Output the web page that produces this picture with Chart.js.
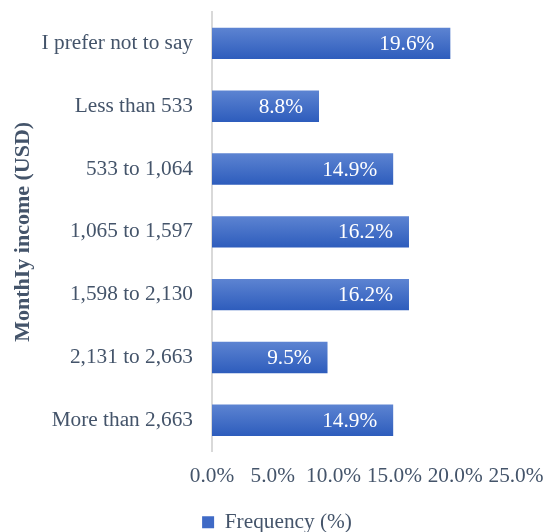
<!DOCTYPE html>
<html lang="en">
<head>
    <meta charset="UTF-8">
    <title>Monthly income</title>
    <style>
        html, body { margin: 0; padding: 0; background: #fff; }
        #wrap { width: 554px; height: 532px; }
    </style>
</head>
<body>
    <div id="wrap"><canvas id="incomeChart" width="554" height="532"></canvas></div>
<script src="https://cdn.jsdelivr.net/npm/chart.js"></script>
<script>
const categories = ['I prefer not to say', 'Less than 533', '533 to 1,064', '1,065 to 1,597', '1,598 to 2,130', '2,131 to 2,663', 'More than 2,663'];
const frequency = [19.6, 8.8, 14.9, 16.2, 16.2, 9.5, 14.9];
const xTicks = [0, 5, 10, 15, 20, 25];

const textColor = '#44546A';
const serif = '"Liberation Serif", "Times New Roman", serif';
const fontSize = 21.3;

// white value labels at the inner end of each bar
const barLabels = {
    id: 'barLabels',
    afterDatasetsDraw(chart) {
        const c = chart.ctx;
        const meta = chart.getDatasetMeta(0);
        c.save();
        c.font = fontSize + 'px ' + serif;
        c.fillStyle = '#ffffff';
        c.textAlign = 'right';
        c.textBaseline = 'middle';
        meta.data.forEach((bar, i) => {
            c.fillText(frequency[i].toFixed(1) + '%', bar.x - 16, bar.y + 1);
        });
        c.restore();
    }
};

function barFill(context) {
    const chart = context.chart;
    const y = chart.scales.y;
    if (!y || context.dataIndex === undefined) return '#4472c4';
    const mid = y.getPixelForValue(context.dataIndex);
    const g = chart.ctx.createLinearGradient(0, mid - 16, 0, mid + 16);
    g.addColorStop(0, '#5d84d2');
    g.addColorStop(1, '#2d5cbc');
    return g;
}

new Chart(document.getElementById('incomeChart'), {
    type: 'bar',
    data: {
        labels: categories,
        datasets: [{
            label: 'Frequency (%)',
            data: frequency,
            backgroundColor: barFill,
            categoryPercentage: 0.5,
            barPercentage: 1
        }]
    },
    options: {
        indexAxis: 'y',
        responsive: false,
        animation: false,
        layout: { padding: { top: 12, right: 0, bottom: -11, left: 0 } },
        scales: {
            x: {
                min: 0,
                max: 25,
                afterBuildTicks(scale) { scale.ticks = xTicks.map(v => ({ value: v })); },
                grid: { display: false, drawTicks: false },
                border: { display: false },
                ticks: {
                    padding: 12,
                    maxRotation: 0,
                    minRotation: 0,
                    autoSkip: false,
                    color: textColor,
                    font: { family: serif, size: fontSize },
                    callback: v => v.toFixed(1) + '%'
                },
                afterFit(scale) {
                    scale.height = 57;
                    scale.paddingLeft = 0;
                    scale.paddingRight = 38;
                }
            },
            y: {
                grid: { display: false, drawTicks: false },
                border: { display: true, color: '#d9d9d9', width: 2 },
                ticks: {
                    padding: 19,
                    color: textColor,
                    font: { family: serif, size: fontSize }
                },
                title: {
                    display: true,
                    text: 'MonthIy income (USD)',
                    color: textColor,
                    font: { family: serif, size: 22, weight: 'bold' },
                    padding: { top: 10, bottom: 0 }
                },
                afterFit(scale) {
                    scale.width = 212;
                    scale.paddingTop = 0;
                    scale.paddingBottom = 0;
                }
            }
        },
        plugins: {
            legend: {
                position: 'bottom',
                labels: {
                    color: textColor,
                    font: { family: serif, size: fontSize },
                    boxWidth: 12,
                    boxHeight: 12,
                    padding: 3,
                    generateLabels: () => [{
                        text: 'Frequency (%)',
                        fillStyle: '#3f6ac6',
                        strokeStyle: '#3f6ac6',
                        lineWidth: 0,
                        fontColor: textColor,
                        datasetIndex: 0
                    }]
                }
            },
            tooltip: { enabled: false }
        }
    },
    plugins: [barLabels]
});
</script>
</body>
</html>
